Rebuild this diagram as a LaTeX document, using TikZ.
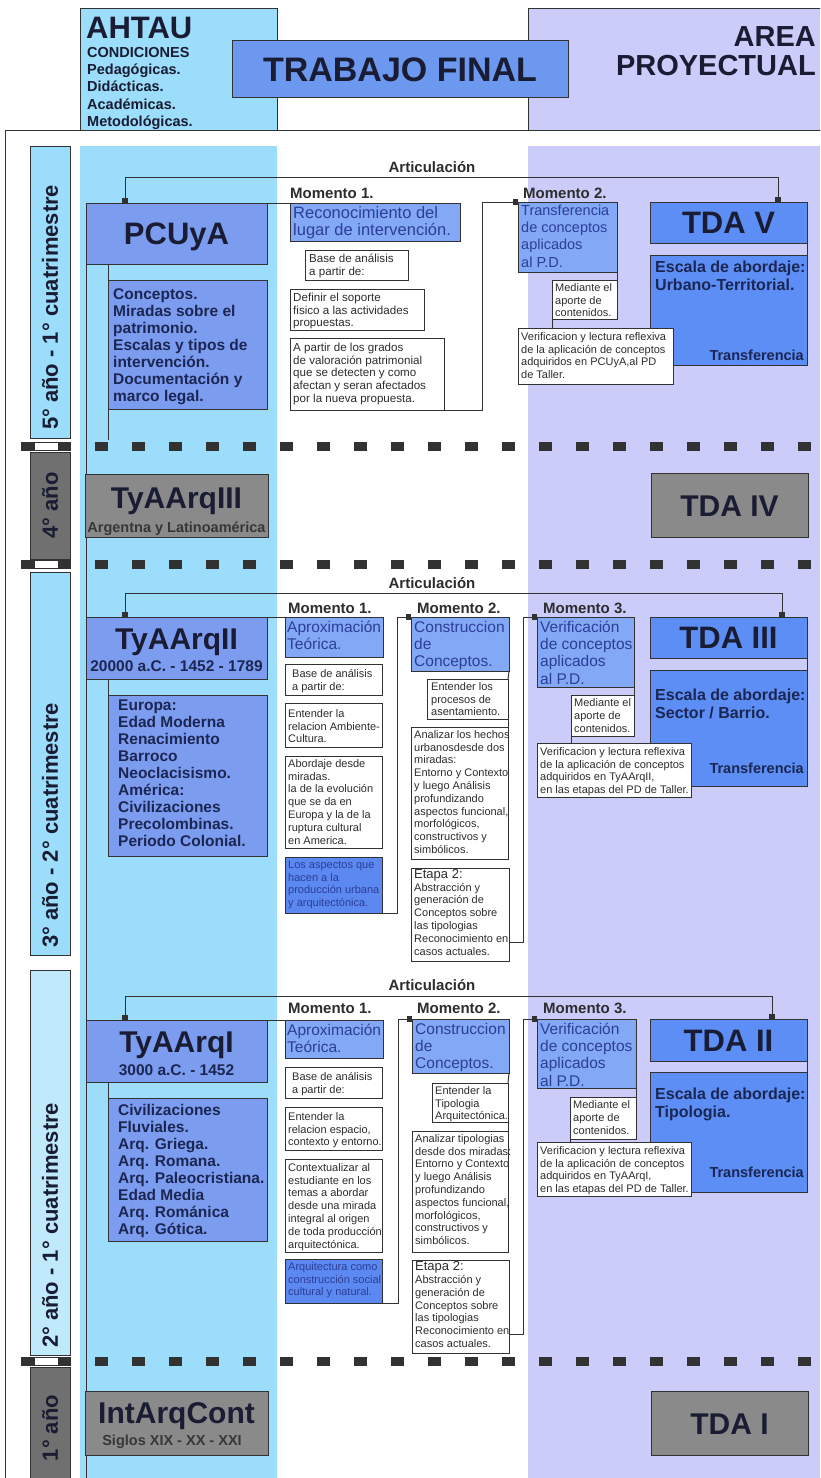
\documentclass[tikz,border=0pt]{standalone}
\usepackage{fontspec}
\setmainfont{Liberation Sans}
\usetikzlibrary{arrows.meta,calc}
\definecolor{cyancol}{RGB}{155,221,250}
\definecolor{cyanlt}{RGB}{192,234,252}
\definecolor{lav}{RGB}{204,204,250}
\definecolor{tfblue}{RGB}{108,152,240}
\definecolor{hdrblue}{RGB}{124,156,240}
\definecolor{mblue}{RGB}{130,168,246}
\definecolor{sblue}{RGB}{92,136,242}
\definecolor{tdablue}{RGB}{92,142,245}
\definecolor{navy}{RGB}{28,38,82}
\definecolor{ttl}{RGB}{25,28,50}
\definecolor{mtext}{RGB}{45,62,150}
\definecolor{gfill}{RGB}{138,138,138}
\definecolor{gbar}{RGB}{112,112,112}
\definecolor{dk}{RGB}{50,50,50}
\definecolor{txtg}{RGB}{45,45,45}
\newcommand{\mkbox}[6][]{\node[anchor=north west, inner sep=0pt, outer sep=0pt, minimum width={(#5)-(#3)}, minimum height={(#6)-(#4)}, #1] (#2) at (#3,#4) {};}
\newcommand{\ascr}[1]{\rule{0pt}{#1pt}}
\tikzset{
  bxline/.style={draw=dk, line width=0.8pt},
  hdr/.style={bxline, fill=hdrblue},
  mbox/.style={bxline, fill=mblue},
  sbox/.style={bxline, fill=sblue},
  tbox/.style={bxline, fill=tdablue},
  wbox/.style={bxline, fill=white},
  gbox/.style={bxline, fill=gfill},
  ybar/.style={bxline},
  conn/.style={draw=dk, line width=1pt},
  sq/.style={-{Square[length=5pt,width=6pt]}},
  sqq/.style={{Square[length=5pt,width=6pt]}-{Square[length=5pt,width=6pt]}},
  dashl/.style={draw=dk, line width=9pt, dash pattern=on 13pt off 24pt},
  gapbox/.style={fill=white, draw=dk, line width=1pt},
  txt/.style={inner sep=0pt, align=left, anchor=north west},
  small/.style={txt, font=\fontsize{11}{12.8}\selectfont, text=txtg},
  small5/.style={txt, font=\fontsize{11.6}{12.8}\selectfont, text=txtg},
  mtx/.style={txt, font=\fontsize{15.5}{17.3}\selectfont, text=mtext},
  bodytx/.style={txt, font=\bfseries\fontsize{15.5}{17}\selectfont, text=navy},
  esctx/.style={txt, font=\bfseries\fontsize{16}{18.5}\selectfont, text=navy},
  transf/.style={inner sep=0pt, anchor=base east, font=\bfseries\fontsize{14.5}{16}\selectfont, text=navy},
  title/.style={inner sep=0pt, anchor=base, font=\bfseries\fontsize{31}{34}\selectfont, text=ttl},
  gtitle/.style={inner sep=0pt, anchor=base, font=\bfseries\fontsize{30}{32}\selectfont, text=ttl},
  gsub/.style={inner sep=0pt, anchor=base, font=\bfseries\fontsize{14.5}{16}\selectfont, text={rgb,255:red,55;green,55;blue,55}},
  sub/.style={inner sep=0pt, anchor=base, font=\bfseries\fontsize{15.5}{17}\selectfont, text=navy},
  momlab/.style={inner sep=0pt, anchor=base west, font=\bfseries\fontsize{15}{17}\selectfont, text=txtg},
  artl/.style={inner sep=0pt, anchor=base, font=\bfseries\fontsize{15}{17}\selectfont, text=txtg},
  ylab/.style={inner sep=0pt, rotate=90, anchor=west, font=\bfseries\fontsize{22}{24}\selectfont, text=ttl},
}
\begin{document}
\begin{tikzpicture}[x=1pt,y=-1pt]
\useasboundingbox (0,0) rectangle (820,1478);
\clip (0,0) rectangle (820,1478);
\fill[white] (0,0) rectangle (820,1478);
% columns
\fill[cyancol] (80,146) rectangle (277,1490);
\fill[lav] (528,146) rectangle (830,1490);
% header
\draw[conn, line width=0.9pt] (5,1490) |- (830,130);
\mkbox[bxline, fill=cyancol]{ahtau}{80}{8}{277}{130}
\mkbox[bxline, fill=lav]{area}{528}{8}{830}{130}
\mkbox[bxline, fill=tfblue]{tf}{232}{40}{568}{97}
\node[inner sep=0pt, anchor=base west, font=\bfseries\fontsize{31}{34}\selectfont, text=ttl] (ahtaut) at (86,38) {AHTAU};
\node[txt, font=\bfseries\fontsize{14.5}{17.3}\selectfont, text=ttl] (ahtaul) at (87,46) {\ascr{11}CONDICIONES\\Pedagógicas.\\Didácticas.\\Académicas.\\Metodológicas.};
\node[inner sep=0pt, anchor=base, font=\bfseries\fontsize{34}{36}\selectfont, text=ttl] (tft) at (400,81) {TRABAJO FINAL};
\node[inner sep=0pt, anchor=base east, font=\bfseries\fontsize{29}{30}\selectfont, text=ttl] (areat) at (816,46) {AREA};
\node[inner sep=0pt, anchor=base east, font=\bfseries\fontsize{29}{30}\selectfont, text=ttl] (proyt) at (816,75) {PROYECTUAL};

% year bars
\mkbox[ybar, fill=cyancol]{bar5}{30}{146}{70}{438}
\node[ylab] (bar5t) at (50,430) {5° año - 1° cuatrimestre};
\mkbox[ybar, fill=gbar]{bar4}{30}{452}{70}{559}
\node[ylab, anchor=center] (bar4t) at (50,505.5) {4° año};
\mkbox[ybar, fill=cyancol]{bar3}{30}{572}{70}{955}
\node[ylab] (bar3t) at (50,948) {3° año - 2° cuatrimestre};
\mkbox[ybar, fill=cyanlt]{bar2}{30}{970}{70}{1355}
\node[ylab] (bar2t) at (50,1348) {2° año - 1° cuatrimestre};
\mkbox[ybar, fill=gbar]{bar1}{30}{1367}{70}{1490}
\node[ylab, anchor=center] (bar1t) at (50,1428) {1° año};

% dashed separators
\foreach \yy in {446,564,1361}{
  \draw[dashl] (21,\yy) -- (830,\yy);
  \draw[gapbox] (34,\yy-4) rectangle (58,\yy+4);
}

% ================= 5th year =================
\mkbox[hdr]{pcuya}{86}{203}{267}{264}
\node[title] (pcuyat) at (176.5,244.5) {PCUyA};
\mkbox[hdr]{pcuyab}{108}{280}{267}{409}
\node[bodytx] (pcuyabt) at (113,287.5) {\ascr{11.5}Conceptos.\\Miradas sobre el\\patrimonio.\\Escalas y tipos de\\intervención.\\Documentación y\\marco legal.};
\draw[conn] (pcuya.south west) -- ++(0,1230);
\draw[conn] ([xshift=22pt]pcuya.south west) -- ++(0,176);

\mkbox[tbox]{tda5}{650}{202}{807}{243}
\node[title] (tda5t) at (728.5,233.5) {TDA V};
\mkbox[tbox]{esc5}{650}{255}{807}{365}
\node[esctx] (esc5t) at (655,260.5) {\ascr{11.5}Escala de abordaje:\\Urbano-Territorial.};
\node[transf] (tr5f) at (804,360) {Transferencia};
\draw[conn] (tda5.south east) -- (esc5.north east);

\node[momlab] (m15) at (290,198) {Momento 1.};
\mkbox[mbox]{rec5}{290}{203}{460}{241}
\node[txt, font=\fontsize{16.5}{17}\selectfont, text=mtext] (rec5t) at (293,206) {\ascr{12}Reconocimiento del\\lugar de intervención.};
\mkbox[wbox]{base5}{305}{250}{408}{280}
\node[small5] (base5t) at (309,253.5) {\ascr{8.5}Base de análisis\\a partir de:};
\mkbox[wbox]{def5}{290}{289}{424}{330}
\node[small5] (def5t) at (293,292.5) {\ascr{8.5}Definir el soporte\\fisico a las actividades\\propuestas.};
\mkbox[wbox]{apar5}{290}{338}{444}{410}
\node[small5] (apar5t) at (293,342.5) {\ascr{8.5}A partir de los grados\\de valoración patrimonial\\que se detecten y como\\afectan y seran afectados\\por la nueva propuesta.};
\draw[conn] (pcuya.north east) -- (rec5.north west);

\node[momlab] (m25) at (523,198) {Momento 2.};
\mkbox[mbox]{tr5}{518}{202}{617}{272}
\node[txt, font=\fontsize{14.5}{17.3}\selectfont, text=mtext] (tr5t) at (521,204.5) {\ascr{10.5}Transferencia\\de conceptos\\aplicados\\al P.D.};
\mkbox[wbox]{med5}{552}{280}{617}{319}
\node[small] (med5t) at (555,283) {\ascr{8}Mediante el\\aporte de\\contenidos.};
\mkbox[wbox]{ver5}{518}{328}{673}{384}
\node[small] (ver5t) at (521,332) {\ascr{8}Verificacion y lectura reflexiva\\de la aplicación de conceptos\\adquiridos en PCUyA,al PD\\de Taller.};
\draw[conn] (tr5.south east) -- (med5.north east);
\draw[conn] (med5.south west) -- (med5.south west |- ver5.north);
\draw[conn, sq] (apar5.south east) -| ($(tr5.north west)+(-36,0)$) -- (tr5.north west);

\node[artl] (art5) at (432,172) {Articulación};
\draw[conn, sqq] ([xshift=39pt]pcuya.north west) -- ++(0,-26) -| ([xshift=-29pt]tda5.north east);

% ================= 4th year =================
\mkbox[gbox]{tyaa3}{85}{474}{268}{537}
\node[gtitle] (tyaa3t) at (176.5,508) {TyAArqIII};
\node[gsub] (tyaa3s) at (176.5,532) {Argentna y Latinoamérica};
\mkbox[gbox]{tda4}{651}{473}{808}{537}
\node[gtitle] (tda4t) at (729.5,516) {TDA IV};

% ================= 3rd year =================
\mkbox[hdr]{tyaa2}{86}{617}{267}{679}
\node[title, font=\bfseries\fontsize{30}{32}\selectfont] (tyaa2t) at (176.5,649) {TyAArqII};
\node[sub] (tyaa2s) at (176.5,671) {20000 a.C. - 1452 - 1789};
\mkbox[hdr]{tyaa2b}{108}{695}{267}{856}
\node[bodytx] (tyaa2bt) at (118,698.5) {\ascr{11.5}Europa:\\Edad Moderna\\Renacimiento\\Barroco\\Neoclacisismo.\\América:\\Civilizaciones\\Precolombinas.\\Periodo Colonial.};
\draw[conn] (tyaa2b.north west |- tyaa2.south) -- (tyaa2b.north west);

\mkbox[tbox]{tda3}{650}{617}{807}{658}
\node[title] (tda3t) at (728.5,648.5) {TDA III};
\mkbox[tbox]{esc3}{650}{670}{807}{786}
\node[esctx] (esc3t) at (655,688.5) {\ascr{11.5}Escala de abordaje:\\Sector / Barrio.};
\node[transf] (tr3f) at (804,773) {Transferencia};
\draw[conn] (tda3.south east) -- (esc3.north east);

\node[momlab] (m13) at (288,613) {Momento 1.};
\mkbox[mbox]{apr3}{285}{617}{383}{657}
\node[mtx] (apr3t) at (287,620.5) {\ascr{11.5}Aproximación\\Teórica.};
\mkbox[wbox]{base3}{285}{664}{382}{695}
\node[small] (base3t) at (292,669) {\ascr{8}Base de análisis\\a partir de:};
\mkbox[wbox]{ent3}{285}{703}{382}{747}
\node[small] (ent3t) at (288,709) {\ascr{8}Entender la\\relacion Ambiente-\\Cultura.};
\mkbox[wbox]{abo3}{285}{756}{382}{848}
\node[small] (abo3t) at (288,759) {\ascr{8}Abordaje desde\\miradas.\\la de la evolución\\que se da en\\Europa y la de la\\ruptura cultural\\en America.};
\mkbox[sbox]{asp3}{285}{857}{382}{913}
\node[small, text=mtext] (asp3t) at (288,860) {\ascr{8}Los aspectos que\\hacen a la\\producción urbana\\y arquitectónica.};
\draw[conn] (tyaa2.north east) -- (apr3.north west);

\node[momlab] (m23) at (417,613) {Momento 2.};
\mkbox[mbox]{con3}{411}{617}{509}{671}
\node[mtx] (con3t) at (414,620.5) {\ascr{11.5}Construccion\\de\\Conceptos.};
\mkbox[wbox]{entl3}{427}{679}{508}{719}
\node[small] (entl3t) at (431,682) {\ascr{8}Entender los\\procesos de\\asentamiento.};
\mkbox[wbox]{ana3}{411}{727}{508}{859}
\node[small] (ana3t) at (414,730) {\ascr{8}Analizar los hechos\\urbanosdesde dos\\miradas:\\Entorno y Contexto\\y luego Análisis\\profundizando\\aspectos funcional,\\morfológicos,\\constructivos y\\simbólicos.};
\mkbox[wbox]{eta3}{411}{868}{509}{961}
\node[small] (eta3t) at (414,868.5) {\ascr{9.5}{\fontsize{13}{13}\selectfont Etapa 2:}\\Abstracción y\\generación de\\Conceptos sobre\\las tipologias\\Reconocimiento en\\casos actuales.};
\draw[conn] (con3.south east) -- (entl3.north east);
\draw[conn] (entl3.south east) -- (ana3.north east);
\draw[conn, sq] (asp3.south east) -| ($(con3.north west)+(-14,0)$) -- (con3.north west);

\node[momlab] (m33) at (543,613) {Momento 3.};
\mkbox[mbox]{ver3b}{537}{617}{634}{687}
\node[mtx] (ver3t) at (540,620.5) {\ascr{11.5}Verificación\\de conceptos\\aplicados\\al P.D.};
\mkbox[wbox]{med3}{571}{695}{634}{736}
\node[small] (med3t) at (574,698.5) {\ascr{8}Mediante el\\aporte de\\contenidos.};
\mkbox[wbox]{vl3}{537}{743}{691}{797}
\node[small] (vl3t) at (540,747) {\ascr{8}Verificacion y lectura reflexiva\\de la aplicación de conceptos\\adquiridos en TyAArqII,\\en las etapas del PD de Taller.};
\draw[conn] (ver3b.south east) -- (med3.north east);
\draw[conn] (med3.south west) -- (med3.south west |- vl3.north);
\draw[conn, sq] ($(eta3.south east)+(0,-19)$) -| ($(ver3b.north west)+(-14,0)$) -- (ver3b.north west);

\node[artl] (art3) at (432,588) {Articulación};
\draw[conn, sqq] ([xshift=39pt]tyaa2.north west) -- ++(0,-24) -| ([xshift=-25pt]tda3.north east);

% ================= 2nd year =================
\mkbox[hdr]{tyaa1}{86}{1020}{267}{1082}
\node[title, font=\bfseries\fontsize{30}{32}\selectfont] (tyaa1t) at (176.5,1052) {TyAArqI};
\node[sub] (tyaa1s) at (176.5,1075) {3000 a.C. - 1452};
\mkbox[hdr]{tyaa1b}{108}{1098}{267}{1241}
\node[bodytx] (tyaa1bt) at (118,1103.5) {\ascr{11.5}Civilizaciones\\Fluviales.\\Arq. Griega.\\Arq. Romana.\\Arq. Paleocristiana.\\Edad Media\\Arq. Románica\\Arq. Gótica.};
\draw[conn] (tyaa1b.north west |- tyaa1.south) -- (tyaa1b.north west);

\mkbox[tbox]{tda2}{650}{1019}{807}{1061}
\node[title] (tda2t) at (728.5,1051) {TDA II};
\mkbox[tbox]{esc2}{650}{1072}{807}{1192}
\node[esctx] (esc2t) at (655,1087.5) {\ascr{11.5}Escala de abordaje:\\Tipologia.};
\node[transf] (tr2f) at (804,1177) {Transferencia};
\draw[conn] (tda2.south east) -- (esc2.north east);

\node[momlab] (m12) at (288,1013) {Momento 1.};
\mkbox[mbox]{apr2}{285}{1020}{383}{1058}
\node[mtx] (apr2t) at (287,1023.5) {\ascr{11.5}Aproximación\\Teórica.};
\mkbox[wbox]{base2}{285}{1067}{382}{1098}
\node[small] (base2t) at (292,1072) {\ascr{8}Base de análisis\\a partir de:};
\mkbox[wbox]{ent2}{285}{1107}{382}{1150}
\node[small] (ent2t) at (288,1112) {\ascr{8}Entender la\\relacion espacio,\\contexto y entorno.};
\mkbox[wbox]{ctx2}{285}{1159}{382}{1252}
\node[small] (ctx2t) at (288,1163) {\ascr{8}Contextualizar al\\estudiante en los\\temas a abordar\\desde una mirada\\integral al origen\\de toda producción\\arquitectónica.};
\mkbox[sbox]{arq2}{285}{1259}{382}{1303}
\node[small, text=mtext] (arq2t) at (288,1262) {\ascr{8}Arquitectura como\\construcción social\\cultural y natural.};
\draw[conn] (tyaa1.north east) -- (apr2.north west);

\node[momlab] (m22) at (417,1013) {Momento 2.};
\mkbox[mbox]{con2}{412}{1019}{509}{1073}
\node[mtx] (con2t) at (415,1022.5) {\ascr{11.5}Construccion\\de\\Conceptos.};
\mkbox[wbox]{entl2}{432}{1083}{508}{1122}
\node[small] (entl2t) at (435,1086) {\ascr{8}Entender la\\Tipologia\\Arquitectónica.};
\mkbox[wbox]{ana2}{412}{1131}{508}{1252}
\node[small] (ana2t) at (415,1134) {\ascr{8}Analizar tipologias\\desde dos miradas:\\Entorno y Contexto\\y luego Análisis\\profundizando\\aspectos funcional,\\morfológicos,\\constructivos y\\simbólicos.};
\mkbox[wbox]{eta2}{412}{1260}{509}{1353}
\node[small] (eta2t) at (415,1261) {\ascr{9.5}{\fontsize{13}{13}\selectfont Etapa 2:}\\Abstracción y\\generación de\\Conceptos sobre\\las tipologias\\Reconocimiento en\\casos actuales.};
\draw[conn] (con2.south east) -- (entl2.north east);
\draw[conn] (entl2.south east) -- (ana2.north east);
\draw[conn, sq] (arq2.south east) -| ($(con2.north west)+(-14,0)$) -- (con2.north west);

\node[momlab] (m32) at (543,1013) {Momento 3.};
\mkbox[mbox]{ver2b}{537}{1019}{636}{1088}
\node[mtx] (ver2t) at (540,1022.5) {\ascr{11.5}Verificación\\de conceptos\\aplicados\\al P.D.};
\mkbox[wbox]{med2}{570}{1097}{636}{1139}
\node[small] (med2t) at (573,1100.5) {\ascr{8}Mediante el\\aporte de\\contenidos.};
\mkbox[wbox]{vl2}{537}{1142}{691}{1196}
\node[small] (vl2t) at (540,1146) {\ascr{8}Verificacion y lectura reflexiva\\de la aplicación de conceptos\\adquiridos en TyAArqI,\\en las etapas del PD de Taller.};
\draw[conn] (ver2b.south east) -- (med2.north east);
\draw[conn] (med2.south west) -- (med2.south west |- vl2.north);
\draw[conn, sq] ($(eta2.south east)+(0,-19)$) -| ($(ver2b.north west)+(-14,0)$) -- (ver2b.north west);

\node[artl] (art2) at (432,990) {Articulación};
\draw[conn, sqq] ([xshift=39pt]tyaa1.north west) -- ++(0,-24) -| ([xshift=-35pt]tda2.north east);

% ================= 1st year =================
\mkbox[gbox]{iac}{85}{1391}{268}{1455}
\node[gtitle] (iact) at (176.5,1423) {IntArqCont};
\node[gsub] (iacs) at (172,1445) {Siglos XIX - XX - XXI};
\mkbox[gbox]{tda1}{651}{1391}{808}{1455}
\node[gtitle] (tda1t) at (729.5,1434) {TDA I};
\end{tikzpicture}
\end{document}
